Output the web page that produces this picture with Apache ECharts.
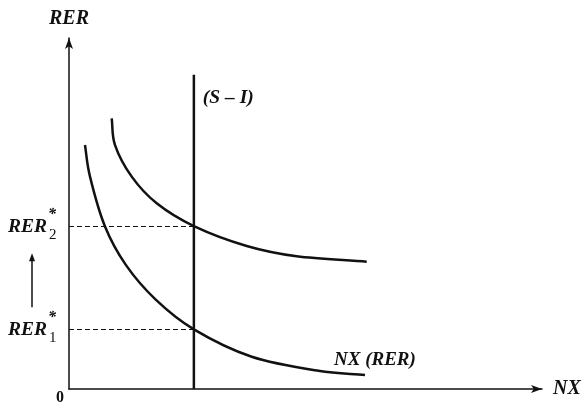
<!DOCTYPE html>
<html><head><meta charset="utf-8">
<script src="https://cdn.jsdelivr.net/npm/echarts@6/dist/echarts.min.js"></script>
<style>html,body{margin:0;padding:0;background:#fff}#chart{width:584px;height:405px}</style>
</head><body><div id="chart"></div>
<script>
// Net exports schedule NX(RER) shifting out against a fixed (S − I) line
const nxInitialX = [3.38, 4.44, 7.61, 12.05, 18.39, 26.4, 38.63, 52.71, 62.58];
const nxInitialY = [69.5, 60.5, 46.3, 35.3, 25.4, 17.0, 9.2, 5.2, 4.0];
const nxShiftedX = [9.03, 9.73, 13.26, 18.54, 26.4, 37.57, 48.14, 62.94];
const nxShiftedY = [77.1, 69.5, 60.5, 52.9, 46.4, 40.74, 37.81, 36.27];
const sMinusI = 26.4;           // position of the (S − I) line on NX
const sMinusITop = 89.5;        // top end of the (S − I) line
const rerLevels = [17.0, 46.4]; // RER1*, RER2*
const rerSubs = ['1', '2'];

const serif = "Liberation Serif";
const ink = '#111';

const zip = (xs, ys) => xs.map((x, i) => [x, ys[i]]);

// Catmull-Rom spline through pixel points, as an SVG path string
function splinePath(pts) {
  const n = pts.length;
  let d = `M${pts[0][0]},${pts[0][1]}`;
  for (let i = 0; i < n - 1; i++) {
    const p1 = pts[i], p2 = pts[i + 1];
    const p0 = i > 0 ? pts[i - 1] : [2 * p1[0] - p2[0], 2 * p1[1] - p2[1]];
    const p3 = i + 2 < n ? pts[i + 2] : [2 * p2[0] - p1[0], 2 * p2[1] - p1[1]];
    const c1 = [p1[0] + (p2[0] - p0[0]) / 6, p1[1] + (p2[1] - p0[1]) / 6];
    const c2 = [p2[0] - (p3[0] - p1[0]) / 6, p2[1] - (p3[1] - p1[1]) / 6];
    d += ` C${c1[0]},${c1[1]} ${c2[0]},${c2[1]} ${p2[0]},${p2[1]}`;
  }
  return d;
}

function curveSeries(xs, ys) {
  const data = zip(xs, ys);
  return {
    type: 'custom', data, silent: true, clip: false,
    renderItem: (params, api) => {
      if (params.dataIndex !== 0) return null;
      const pts = data.map(p => api.coord(p));
      return {
        type: 'path',
        shape: { pathData: splinePath(pts) },
        style: { fill: 'none', stroke: ink, lineWidth: 2.5 }
      };
    }
  };
}

const chart = echarts.init(document.getElementById('chart'), null, { renderer: 'canvas' });

chart.setOption({
  animation: false,
  grid: { left: 69, right: 42, top: 38, bottom: 16, containLabel: false },
  xAxis: {
    type: 'value', min: 0, max: 100,
    name: 'NX', nameLocation: 'end', nameGap: 11,
    nameTextStyle: { fontFamily: serif, fontStyle: 'italic', fontWeight: 'bold', fontSize: 20, color: ink, verticalAlign: 'middle' },
    axisLine: { show: true, onZero: false, symbol: ['none', 'arrow'], symbolSize: [6, 11], lineStyle: { color: ink, width: 1.5 } },
    axisTick: { show: false }, axisLabel: { show: false }, splitLine: { show: false }
  },
  yAxis: {
    type: 'value', min: 0, max: 100,
    name: 'RER', nameLocation: 'end', nameGap: 9,
    nameTextStyle: { fontFamily: serif, fontStyle: 'italic', fontWeight: 'bold', fontSize: 20, color: ink, align: 'center' },
    axisLine: { show: true, onZero: false, symbol: ['none', 'arrow'], symbolSize: [6, 11], lineStyle: { color: ink, width: 1.5 } },
    axisTick: { show: false }, axisLabel: { show: false }, splitLine: { show: false }
  },
  series: [
    curveSeries(nxInitialX, nxInitialY),
    curveSeries(nxShiftedX, nxShiftedY),
    {
      type: 'line', data: [[sMinusI, 0], [sMinusI, sMinusITop]], showSymbol: false,
      lineStyle: { color: ink, width: 2.5 }
    },
    {
      type: 'line', data: [], silent: true,
      markLine: {
        silent: true, symbol: 'none', label: { show: false },
        lineStyle: { type: [5, 3], color: ink, width: 1 },
        data: rerLevels.map(v => [{ coord: [0, v] }, { coord: [sMinusI, v] }])
      }
    }
  ]
});

// Annotations positioned from the axes' own scales
const px = (x, y) => chart.convertToPixel({ gridIndex: 0 }, [x, y]);
const txt = (x, y, text, size, align, italic) => ({
  type: 'text', x, y,
  style: {
    text, fontFamily: serif, fontStyle: italic === false ? 'normal' : 'italic', fontWeight: 'bold',
    fontSize: size, fill: ink, align, verticalAlign: 'middle'
  }
});

const origin = px(0, 0);
const sTop = px(sMinusI, sMinusITop);
const lowEnd = px(nxInitialX[nxInitialX.length - 1], nxInitialY[nxInitialY.length - 1]);
const graphics = [];

graphics.push(txt(origin[0] - 9, origin[1] + 9, '0', 16, 'center', false));
graphics.push(txt(sTop[0] + 9, sTop[1] + 23, '(S – I)', 19.5, 'left'));
graphics.push(txt(lowEnd[0] - 31, lowEnd[1] - 15, 'NX (RER)', 19, 'left'));

const levelPx = rerLevels.map(v => px(0, v)[1]);
rerLevels.forEach((v, i) => {
  const y = levelPx[i];
  graphics.push(txt(47, y + 1, 'RER', 19.5, 'right'));
  graphics.push(txt(48, y - 11, '*', 16, 'left'));
  const sub = txt(49, y + 9, rerSubs[i], 15, 'left', false);
  sub.style.fontWeight = 'normal';
  graphics.push(sub);
});

// Upward arrow between the two equilibrium labels
const arrowTip = levelPx[1] + 27, arrowBase = levelPx[0] - 22;
graphics.push({ type: 'line', shape: { x1: 32, y1: arrowBase, x2: 32, y2: arrowTip + 6 }, style: { stroke: ink, lineWidth: 1.5 } });
graphics.push({ type: 'polygon', shape: { points: [[32, arrowTip], [29, arrowTip + 8], [35, arrowTip + 8]] }, style: { fill: ink } });

chart.setOption({ graphic: graphics });
</script>
</body></html>
